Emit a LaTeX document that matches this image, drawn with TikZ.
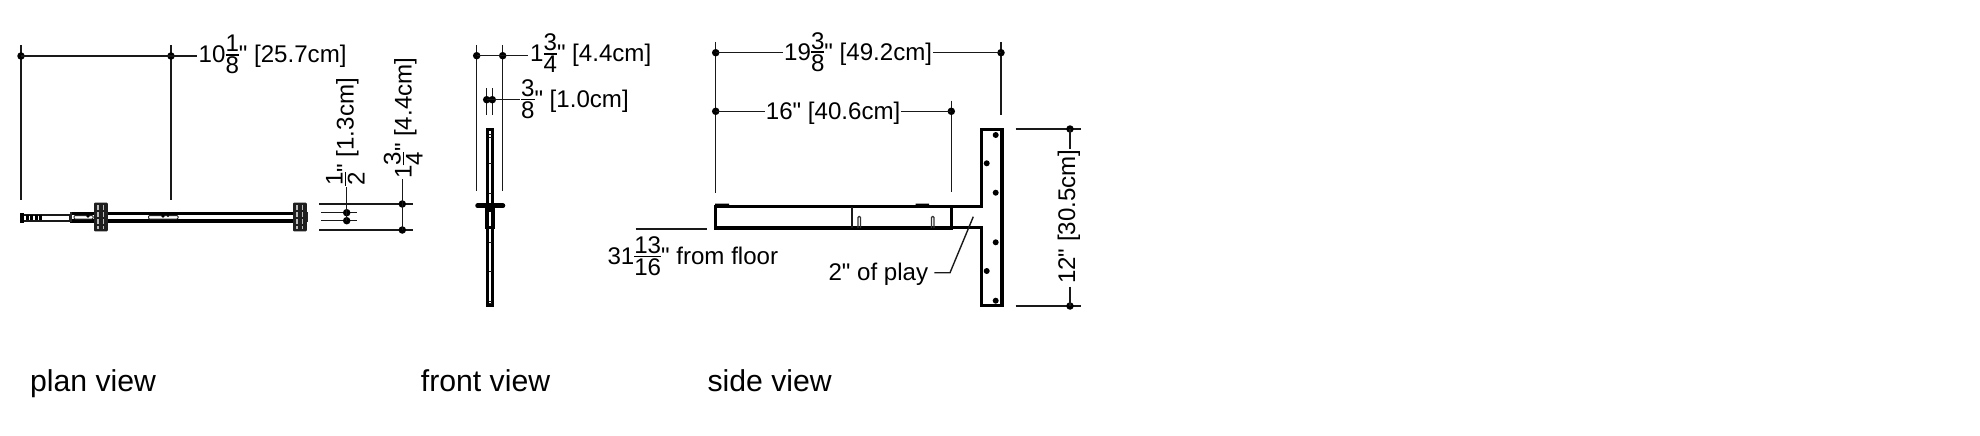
\documentclass[tikz,border=0pt]{standalone}
\usepackage{fontspec}
\defaultfontfeatures[\rmfamily]{}
\setmainfont{Liberation Sans}
\newcommand\fr[2]{\begingroup\setbox0\hbox{#1}\setbox2\hbox{#2}\dimen0=\ifdim\wd0>\wd2 \wd0\else\wd2\fi\rlap{\raisebox{11pt}{\hbox to\dimen0{\hfil#1\hfil}}}\rlap{\raisebox{-11pt}{\hbox to\dimen0{\hfil#2\hfil}}}\rlap{\rule[7.4pt]{\dimen0}{1.4pt}}\hspace{\dimen0}\endgroup}
\tikzset{
  dim/.style={line width=1.4pt,draw=black!90},
  ext/.style={line width=1.4pt,draw=black!90},
  part/.style={line width=3.3pt,draw=black},
  thin part/.style={line width=2pt,draw=black!90},
  dimdot/.style={circle,fill=black,inner sep=0pt,minimum size=7.5pt},
  holedot/.style={circle,fill=black,inner sep=0pt,minimum size=6pt},
  dimtext/.style={anchor=base west,inner sep=0pt,font=\fontsize{24.1}{24.1}\selectfont,text=black},
  rottext/.style={dimtext,rotate=90},
  viewtext/.style={anchor=base west,inner sep=0pt,font=\fontsize{30.2}{30.2}\selectfont,text=black},
}
\begin{document}
\begin{tikzpicture}[x=1pt,y=-1pt]
\useasboundingbox (0,0) rectangle (1980,436);
% ---------- plan view
\coordinate (p1t) at (21,45); \coordinate (p1b) at (21,200);
\coordinate (p2t) at (171,45); \coordinate (p2b) at (171,200);
\draw[ext] (p1t)--(p1b); \draw[ext] (p2t)--(p2b);
\node[dimdot] (pd1) at (21,56) {}; \node[dimdot] (pd2) at (171,56) {};
\node[dimtext] (pl1) at (198.5,63) {10\fr{1}{8}" [25.7cm]};
\coordinate (pl1w) at (197,56);
\draw[dim] (pd1.center)--(pl1w);
% bar
\draw[thin part] (21,214.5) rectangle (70,221);
\draw[line width=5pt,black,dash pattern=on 3pt off 1.5pt] (21,217.7)--(42,217.7);
\fill[black] (20,212.5) rectangle (24,222.5);
\draw[part,line width=3.7pt] (70,213.5)--(293,213.5) (70,220.8)--(293,220.8);
\draw[line width=2pt,black!85] (71,212)--(71,222);
\draw[line width=1pt,black!85,rounded corners=1pt] (74,215.5) rectangle (93,219);
\draw[line width=1pt,black!85,rounded corners=1pt] (148.5,215.5) rectangle (178,219);
\fill[black] (163,216) circle (1.8) (168,216) circle (1.2);
\fill[black] (88,216) circle (1.8);
% blocks
\foreach \x in {94,293}{
  \fill[black!88,rounded corners=1pt] (\x,202.7) rectangle ++(13.8,28.6);
  \draw[white!75!black,line width=1.1pt,dash pattern=on 5pt off 2pt] (\x+4,205)--(\x+4,229);
  \draw[white!75!black,line width=1.1pt,dash pattern=on 5pt off 2pt] (\x+9.5,205)--(\x+9.5,229);
}
\fill[black!85] (307,212) rectangle (308,222);
% plan dims
\coordinate (a1) at (319,204); \coordinate (a2) at (413,204);
\coordinate (b1) at (319,230); \coordinate (b2) at (413,230);
\coordinate (c1) at (321,212.7); \coordinate (c2) at (357,212.7);
\coordinate (d1) at (321,220.7); \coordinate (d2) at (357,220.7);
\draw[ext] (a1)--(a2); \draw[ext] (b1)--(b2); \draw[ext] (c1)--(c2); \draw[ext] (d1)--(d2);
\node[dimdot] (pc) at (346.7,212.7) {}; \node[dimdot] (pd) at (346.7,220.7) {};
\node[dimdot] (pa) at (402.3,204) {}; \node[dimdot] (pb) at (402.3,230) {};
\node[rottext] (pl2) at (353.5,186) {\fr{1}{2}" [1.3cm]};
\node[rottext] (pl3) at (411.5,179) {1\fr{3}{4}" [4.4cm]};
\coordinate (pl2s) at (346.7,187); \coordinate (pl3s) at (402.3,179);
\draw[dim] (pd.center)--(pl2s); \draw[dim] (pb.center)--(pl3s);
% ---------- front view
\draw[ext] (476.7,45)--(476.7,190.7); \draw[ext] (502.7,45)--(502.7,190.7);
\node[dimdot] (fd1) at (476.7,55.7) {}; \node[dimdot] (fd2) at (502.7,55.7) {};
\node[dimtext] (fl1) at (530,62) {1\fr{3}{4}" [4.4cm]};
\coordinate (fl1w) at (528,55.7);
\draw[dim] (fd1.center)--(fl1w);
\draw[ext] (486.7,88)--(486.7,115); \draw[ext] (492.3,88)--(492.3,115);
\node[dimdot] (fd3) at (486.7,99.7) {}; \node[dimdot] (fd4) at (492.3,99.7) {};
\node[dimtext] (fl2) at (520.9,107.8) {\fr{3}{8}" [1.0cm]};
\coordinate (fl2w) at (520,99.7);
\draw[dim] (fd3.center)--(fl2w);
% post
\draw[line width=3pt,black] (487.5,129.5) rectangle (492.5,305.5);
\fill[white] (489,131) rectangle (491,304);
\foreach \y in {134,137,163,193,242,271,301,303}{\draw[line width=1pt,black!90] (488.5,\y)--(491.5,\y);}
\fill[black] (484.5,205) rectangle (495,229);
\fill[white] (489,212) rectangle (491,226);
\draw[line width=4.5pt,black,line cap=round] (477.5,205.7)--(503,205.7);
% ---------- side view
\draw[ext] (715.7,42)--(715.7,193.3);
\draw[ext] (1001,42)--(1001,115);
\draw[ext] (951.3,100.7)--(951.3,192.3);
\node[dimdot] (sd1) at (715.7,52.7) {}; \node[dimdot] (sd2) at (1001,52.7) {};
\node[dimdot] (sd3) at (715.7,111.3) {}; \node[dimdot] (sd4) at (951.3,111.3) {};
\node[dimtext] (sl1) at (784,60) {19\fr{3}{8}" [49.2cm]};
\node[dimtext] (sl2) at (765.7,119) {16" [40.6cm]};
\coordinate (sl1w) at (783,52.7); \coordinate (sl1e) at (933,52.7);
\coordinate (sl2w) at (765,111.3); \coordinate (sl2e) at (901,111.3);
\draw[dim] (sd1.center)--(sl1w); \draw[dim] (sl1e)--(sd2.center);
\draw[dim] (sd3.center)--(sl2w); \draw[dim] (sl2e)--(sd4.center);
% tube
\draw[part] (715.5,206.5) rectangle (951.7,228);
\fill[black] (715,203.5) rectangle (729,206) (915.7,203.5) rectangle (929,206);
\draw[thin part] (851.7,207)--(851.7,228);
\draw[line width=1.2pt,black!80,rounded corners=1pt] (858,228)--(858,216.5)--(860.5,216.5)--(860.5,228);
\draw[line width=1.2pt,black!80,rounded corners=1pt] (931.5,228)--(931.5,216.5)--(934,216.5)--(934,228);
% plate
\draw[part] (951.7,206.5)--(981.2,206.5)--(981.2,129.3)--(1002,129.3)--(1002,305.7)--(981.2,305.7)--(981.2,227.5)--(951.7,227.5);
\foreach \p in {(995.7,135),(986.7,163.3),(995.7,192.7),(995.7,242.3),(986.7,271),(995.7,300.7)}{\node[holedot] at \p {};}
% side dims
\coordinate (e1) at (1015.7,129); \coordinate (e2) at (1081,129);
\coordinate (f1) at (1015.7,306); \coordinate (f2) at (1081,306);
\draw[ext] (e1)--(e2); \draw[ext] (f1)--(f2);
\node[dimdot] (sd5) at (1070,129) {}; \node[dimdot] (sd6) at (1070,306) {};
\node[rottext] (sl3) at (1075,284) {12" [30.5cm]};
\coordinate (sl3t) at (1070,149); \coordinate (sl3b) at (1070,286.7);
\draw[dim] (sd5.center)--(sl3t); \draw[dim] (sl3b)--(sd6.center);
% leader
\node[dimtext] (play) at (828.3,280.7) {2" of play};
\coordinate (l1) at (973.3,216.7); \coordinate (l2) at (950,272.7); \coordinate (l3) at (934.3,272.7);
\draw[dim] (l1)--(l2)--(l3);
% floor
\coordinate (g1) at (635.7,229); \coordinate (g2) at (707.3,229);
\draw[dim] (g1)--(g2);
\node[dimtext] (floor) at (607.3,264.3) {31\fr{13}{16}" from floor};
% ---------- labels
\node[viewtext] (v1) at (30,391.7) {plan view};
\node[viewtext] (v2) at (420.7,391.7) {front view};
\node[viewtext] (v3) at (707.3,391.7) {side view};
\end{tikzpicture}
\end{document}
